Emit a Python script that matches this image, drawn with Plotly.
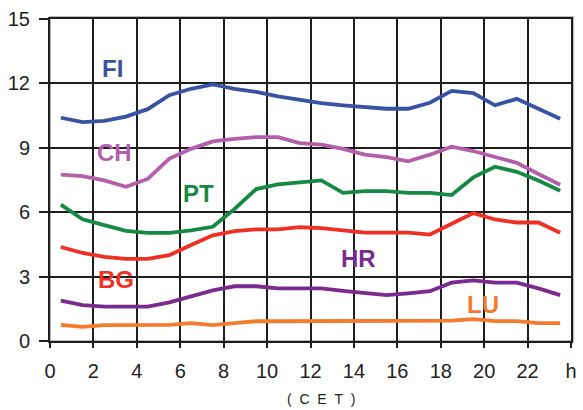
import plotly.graph_objects as go

hours = [h + 0.5 for h in range(24)]

fi = [10.4, 10.2, 10.25, 10.45, 10.8, 11.45, 11.75, 11.95, 11.75, 11.6, 11.4, 11.25,
      11.08, 10.98, 10.9, 10.82, 10.82, 11.1, 11.65, 11.55, 10.98, 11.28, 10.82, 10.35]
ch = [7.75, 7.68, 7.48, 7.18, 7.55, 8.5, 8.95, 9.3, 9.42, 9.5, 9.5, 9.22,
      9.15, 8.95, 8.68, 8.57, 8.37, 8.68, 9.05, 8.85, 8.57, 8.3, 7.78, 7.28]
pt = [6.35, 5.67, 5.4, 5.13, 5.04, 5.04, 5.15, 5.32, 6.15, 7.08, 7.3, 7.4,
      7.48, 6.9, 6.98, 6.98, 6.9, 6.9, 6.8, 7.62, 8.12, 7.88, 7.48, 7.0]
bg = [4.38, 4.1, 3.92, 3.83, 3.83, 4.0, 4.47, 4.92, 5.12, 5.2, 5.2, 5.3,
      5.26, 5.15, 5.05, 5.05, 5.05, 4.96, 5.44, 5.96, 5.66, 5.52, 5.52, 5.04]
hr = [1.88, 1.67, 1.6, 1.58, 1.6, 1.8, 2.1, 2.36, 2.55, 2.55, 2.45, 2.45,
      2.45, 2.34, 2.22, 2.14, 2.22, 2.32, 2.72, 2.82, 2.72, 2.72, 2.45, 2.14]
lu = [0.75, 0.66, 0.74, 0.74, 0.74, 0.75, 0.83, 0.74, 0.83, 0.92, 0.92, 0.92,
      0.93, 0.93, 0.93, 0.93, 0.93, 0.93, 0.95, 1.02, 0.93, 0.93, 0.83, 0.83]

series = [
    ("FI", fi, "#3853a4", 2.9, 12.7),
    ("CH", ch, "#b35fab", 2.95, 8.8),
    ("PT", pt, "#168a44", 6.85, 6.85),
    ("BG", bg, "#ee3124", 3.05, 2.85),
    ("HR", hr, "#7b2a8e", 14.2, 3.85),
    ("LU", lu, "#f47a2c", 19.95, 1.7),
]

x_ticks = list(range(0, 25, 2))
x_labels = [str(t) for t in range(0, 24, 2)] + ["h"]
y_ticks = list(range(0, 16, 3))

fig = go.Figure()

for name, vals, color, lx, ly in series:
    fig.add_trace(go.Scatter(x=hours, y=vals, mode="lines", name=name,
                             line=dict(color=color, width=3.8)))
    fig.add_annotation(x=lx, y=ly, text="<b>%s</b>" % name, showarrow=False,
                       font=dict(size=24, color=color, family="Liberation Sans"))

# (CET) label under the axis
fig.add_annotation(x=12.5, y=-0.18, yref="paper", yanchor="middle",
                   text="(&nbsp;&nbsp;C&nbsp;&nbsp;E&nbsp;&nbsp;T&nbsp;&nbsp;)",
                   showarrow=False,
                   font=dict(size=14, color="#222", family="Liberation Sans"))

# light shadow on top/right of the frame
fig.add_shape(type="rect", xref="paper", yref="paper", x0=0, x1=1.004, y0=0, y1=1.006,
              line=dict(color="#bbbbbb", width=2), layer="below")

axis_font = dict(size=20, color="#222", family="Liberation Sans")
fig.update_xaxes(range=[0, 24], tickvals=x_ticks, ticktext=x_labels,
                 showgrid=True, gridcolor="#1e1e1e", gridwidth=2,
                 showline=True, linecolor="#1e1e1e", linewidth=2, mirror=True,
                 ticks="outside", ticklen=5, tickwidth=2, tickcolor="#1e1e1e",
                 ticklabelstandoff=6, tickfont=axis_font, zeroline=False,
                 automargin=False)
fig.update_yaxes(range=[0, 15], tickvals=y_ticks,
                 showgrid=True, gridcolor="#1e1e1e", gridwidth=2,
                 showline=True, linecolor="#1e1e1e", linewidth=2, mirror=True,
                 ticks="outside", ticklen=9, tickwidth=2, tickcolor="#1e1e1e",
                 ticklabelstandoff=5, tickfont=axis_font, zeroline=False,
                 automargin=False)

fig.update_layout(
    width=583, height=410,
    margin=dict(l=50, r=12, t=19, b=69),
    paper_bgcolor="white", plot_bgcolor="white",
    showlegend=False,
)

# drop the browser's default body margin so the figure sits at the page corner
fig.write_html("out.html", config={"displayModeBar": False},
               post_script="document.body.style.margin='0';")
